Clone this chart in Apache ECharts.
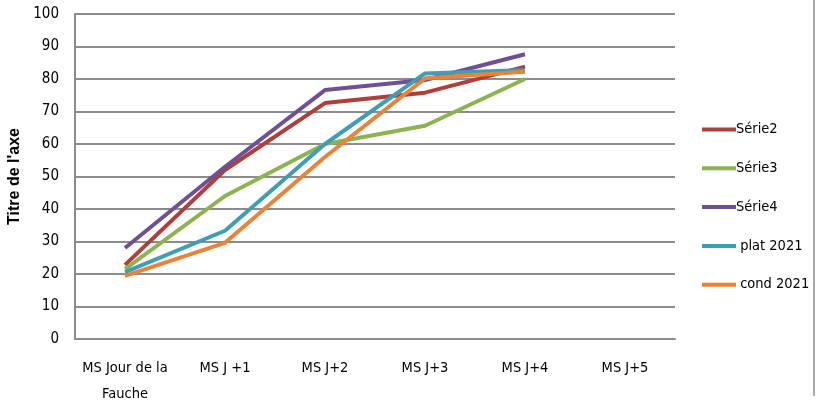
<!DOCTYPE html>
<html><head><meta charset="utf-8">
<script src="https://cdn.jsdelivr.net/npm/echarts@6/dist/echarts.min.js"></script>
<style>html,body{margin:0;padding:0;background:#fff}#c{width:817px;height:403px}</style>
</head><body><div id="c"></div>
<script>
const categories = ['MS Jour de la\nFauche', 'MS J +1', 'MS J+2', 'MS J+3', 'MS J+4', 'MS J+5'];
const yTicks = [0, 10, 20, 30, 40, 50, 60, 70, 80, 90, 100];
const serie2 = [22.8, 52, 72.6, 75.8, 83.8, null];
const serie3 = [21.5, 44, 60, 65.6, 80, null];
const serie4 = [28, 53, 76.6, 79.7, 87.6, null];
const plat2021 = [20.6, 33.3, 60, 81.7, 82.8, null];
const cond2021 = [19.4, 29.6, 56, 80.2, 82.2, null];
const seriesNames = ['Série2', 'Série3', 'Série4', ' plat 2021', ' cond 2021'];
const seriesData = [serie2, serie3, serie4, plat2021, cond2021];
const colors = ['#B03E3B', '#8DB350', '#6E5096', '#3F9DB7', '#E8843A'];

const font = '"DejaVu Sans Condensed", "Liberation Sans Narrow", sans-serif';
const chart = echarts.init(document.getElementById('c'));
chart.setOption({
  animation: false,
  color: colors,
  grid: { left: 75, right: 142, top: 14, bottom: 64, outerBoundsMode: 'none', containLabel: false },
  legend: {
    orient: 'vertical', left: 697, top: 117, itemGap: 23.8,
    itemWidth: 34, itemHeight: 17, icon: 'rect',
    textStyle: { fontFamily: font, fontSize: 14.5, color: '#000', padding: [0, 0, 0, -5] },
    data: seriesNames.map((n, i) => ({ name: n, icon: 'path://M0,6 L34,6 L34,10 L0,10 Z' }))
  },
  xAxis: {
    type: 'category', data: categories, boundaryGap: true,
    axisLine: { lineStyle: { color: '#8c8c8c', width: 2 } },
    axisTick: { show: false },
    axisLabel: { interval: 0, fontFamily: font, fontSize: 14.5, color: '#000', margin: 16, lineHeight: 26 }
  },
  yAxis: {
    type: 'value', min: 0, max: 100, interval: 10,
    name: "Titre de l'axe", nameLocation: 'middle', nameGap: 47,
    nameTextStyle: { fontFamily: '"Liberation Sans", sans-serif', fontWeight: 'bold', fontSize: 16, color: '#000' },
    axisLine: { show: true, lineStyle: { color: '#8c8c8c', width: 2 } },
    axisTick: { show: false },
    axisLabel: { fontFamily: font, fontSize: 15, color: '#000', margin: 16,
      formatter: v => yTicks.includes(v) ? String(v) : '' },
    splitLine: { lineStyle: { color: '#8c8c8c', width: 2 } }
  },
  series: seriesNames.map((n, i) => ({
    name: n, type: 'line', data: seriesData[i], symbol: 'none',
    lineStyle: { width: 4, color: colors[i] }
  })),
  graphic: [{ type: 'line', shape: { x1: 814, y1: 0, x2: 814, y2: 396 }, style: { stroke: '#8c8c8c', lineWidth: 1.5 } }]
});
</script></body></html>
